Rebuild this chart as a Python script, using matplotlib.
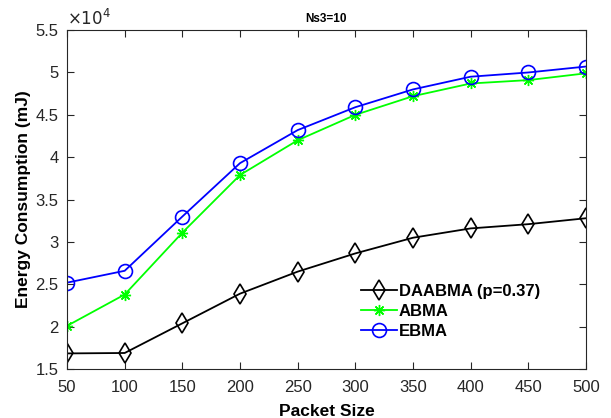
import matplotlib
matplotlib.use('Agg')
import matplotlib.pyplot as plt
import matplotlib.ticker as ticker

plt.rcParams['font.family'] = ['Liberation Sans', 'DejaVu Sans']

packet_size = [50, 100, 150, 200, 250, 300, 350, 400, 450, 500]
daabma = [16850, 16900, 20400, 23900, 26500, 28650, 30500, 31600, 32100, 32800]
abma = [20100, 23800, 31100, 37900, 42000, 45000, 47200, 48700, 49100, 49900]
ebma = [25200, 26600, 33000, 39300, 43200, 45900, 48000, 49500, 50000, 50700]

fig = plt.figure(figsize=(6.11, 4.18), dpi=100)
ax = fig.add_axes([0.1097, 0.117, 0.8493, 0.811])

ax.plot(packet_size, daabma, color='black', marker='d', markersize=10,
        markerfacecolor='none', markeredgewidth=1.2, linewidth=1.3,
        label='DAABMA (p=0.37)')
ax.plot(packet_size, abma, color='#00ff00', marker=(8, 2, 0), markersize=8,
        markeredgewidth=1.0, linewidth=1.3, label='ABMA')
ax.plot(packet_size, ebma, color='blue', marker='o', markersize=10,
        markerfacecolor='none', markeredgewidth=1.2, linewidth=1.3,
        label='EBMA')

ax.set_xlim(50, 500)
ax.set_ylim(15000, 55000)
ax.set_xticks(range(50, 501, 50))
ax.set_yticks([15000 + 5000 * i for i in range(9)])
ax.yaxis.set_major_formatter(ticker.FuncFormatter(lambda v, p: '%g' % (v / 1e4)))

ax.tick_params(direction='in', top=True, right=True, labelsize=12,
               colors='#262626', length=5, width=0.8)
ax.tick_params(axis='x', pad=8)
ax.tick_params(axis='y', pad=6)
for s in ax.spines.values():
    s.set_color('#262626')
    s.set_linewidth(0.8)

ax.text(0.0, 1.005, r'$\times10^{4}$', transform=ax.transAxes,
        fontsize=12, color='#262626', ha='left', va='bottom')
ax.set_title('Ns3=10', fontsize=8.5, fontweight='bold', pad=6)
ax.set_ylabel('Energy Consumption (mJ)', fontsize=12.5, fontweight='bold', labelpad=3)
ax.set_xlabel('Packet Size', fontsize=12.5, fontweight='bold', labelpad=6)

ax.legend(loc='upper left', bbox_to_anchor=(0.553, 0.27), frameon=False,
          prop={'size': 12, 'weight': 'bold'}, handlelength=2.2,
          handletextpad=0.1, labelspacing=0.3, borderaxespad=0)

fig.savefig('out.png', dpi=100)
